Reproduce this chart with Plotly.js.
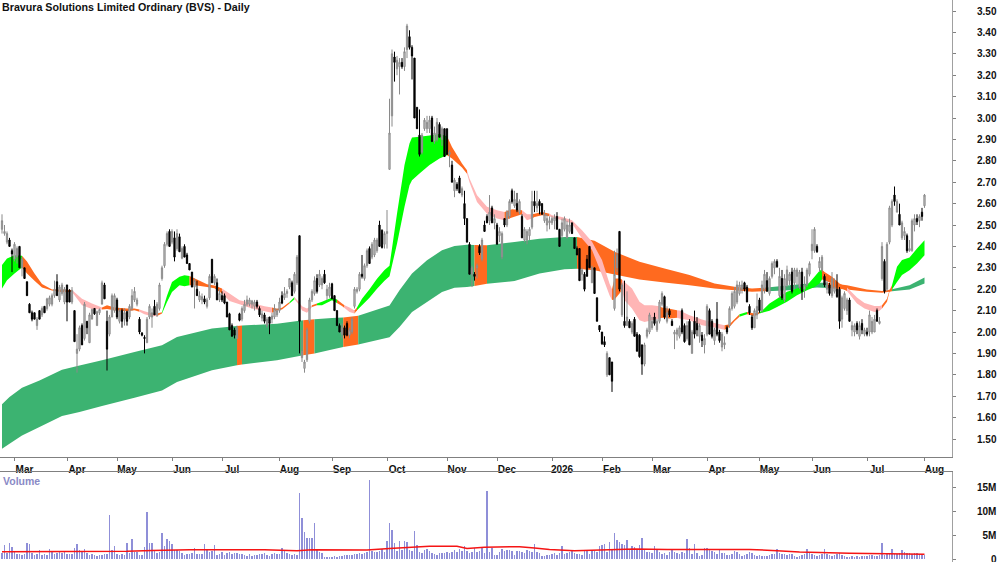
<!DOCTYPE html>
<html>
<head>
<meta charset="utf-8">
<script src="https://cdn.plot.ly/plotly-3.0.1.min.js"></script>
<style>html,body{margin:0;padding:0;background:#fff;overflow:hidden}</style>
</head>
<body>
<div id="chart" style="width:1000px;height:562px"></div>
<script>
var chartTitle = 'Bravura Solutions Limited Ordinary (BVS) - Daily';
var monthTicks = [5,26,46,68,88,111,132,154,178,198,220,240,260,282,303,324,346,369];
var monthLabels = ['Mar','Apr','May','Jun','Jul','Aug','Sep','Oct','Nov','Dec','2026','Feb','Mar','Apr','May','Jun','Jul','Aug'];
var volTicks = [0,5,10,15];
var volLabels = ['\u00A0\u00A0\u00A0\u00A0\u00A00','\u00A0\u00A05M','10M','15M'];

var opens = [
2.48,2.46,2.42,2.43,2.38,2.34,2.35,2.40,2.30,2.30,
2.235,2.13,2.09,2.09,2.03,2.10,2.08,2.12,2.11,2.13,
2.13,2.17,2.235,2.15,2.18,2.14,2.22,2.195,2.14,2.10,
1.90,1.92,2.03,1.97,2.05,1.95,2.06,2.11,2.03,2.09,
2.13,2.22,2.05,1.99,2.07,2.10,2.15,2.05,2.10,2.06,
2.095,2.07,2.11,2.15,2.13,2.06,1.995,1.975,1.95,2.07,
2.07,2.12,2.08,2.11,2.25,2.31,2.41,2.47,2.42,2.44,
2.39,2.445,2.345,2.40,2.36,2.32,2.28,2.21,2.20,2.15,
2.15,2.155,2.12,2.16,2.34,2.23,2.23,2.15,2.17,2.17,
2.14,2.085,2.03,2.01,1.97,2.085,2.06,2.10,2.13,2.13,
2.13,2.12,2.14,2.11,2.065,2.08,2.03,2.07,2.06,2.07,
2.08,2.10,2.17,2.16,2.18,2.21,2.23,2.19,2.23,2.45,
1.88,1.83,1.87,2.05,2.15,2.18,2.25,2.22,2.22,2.27,
2.17,2.17,2.225,2.17,2.10,2.03,1.99,2.02,2.04,1.985,
2.00,2.12,2.19,2.20,2.27,2.25,2.31,2.39,2.35,2.36,
2.38,2.50,2.475,2.41,2.46,2.76,3.01,3.285,3.23,3.24,
3.26,3.24,3.32,3.38,3.33,3.28,3.05,2.92,2.84,2.95,
2.95,2.95,3.00,2.89,2.90,2.97,2.90,2.95,2.95,2.83,
2.78,2.66,2.69,2.72,2.64,2.60,2.53,2.41,2.27,2.27,
2.30,2.40,2.34,2.50,2.54,2.52,2.58,2.51,2.50,2.45,
2.35,2.53,2.50,2.54,2.66,2.59,2.60,2.56,2.54,2.43,
2.43,2.45,2.49,2.61,2.58,2.61,2.60,2.52,2.50,2.51,
2.51,2.52,2.54,2.48,2.45,2.48,2.44,2.47,2.51,2.44,
2.39,2.39,2.27,2.27,2.34,2.40,2.23,2.30,2.16,2.03,
2.00,1.955,1.80,1.88,1.86,2.11,2.30,2.47,2.08,2.05,
2.03,2.05,2.00,2.06,1.99,1.985,1.94,1.85,1.98,2.00,
2.02,2.07,2.01,2.05,2.13,2.165,2.05,2.10,2.05,1.99,
1.99,1.98,2.10,2.03,1.97,2.05,1.90,2.05,2.04,1.98,
1.985,1.94,1.99,2.10,2.05,1.96,2.06,2.00,1.93,1.94,
2.02,2.03,2.11,2.12,2.14,2.18,2.20,2.23,2.21,2.12,
2.07,2.02,2.08,2.15,2.10,2.20,2.24,2.18,2.26,2.30,
2.33,2.17,2.25,2.15,2.22,2.24,2.28,2.23,2.26,2.21,
2.28,2.20,2.22,2.27,2.38,2.38,2.40,2.30,2.29,2.26,
2.20,2.22,2.17,2.19,2.20,2.20,2.06,2.11,2.10,2.15,
2.01,2.00,2.04,1.98,2.04,1.99,2.00,2.00,2.00,2.00,
2.10,2.04,2.25,2.33,2.20,2.42,2.50,2.64,2.56,2.55,
2.44,2.45,2.45,2.38,2.38,2.50,2.53,2.52,2.56,2.59];

var highs = [
2.55,2.50,2.47,2.44,2.39,2.42,2.40,2.40,2.35,2.30,
2.235,2.135,2.10,2.09,2.07,2.10,2.12,2.12,2.16,2.17,
2.18,2.24,2.27,2.22,2.23,2.21,2.22,2.20,2.21,2.10,
1.99,2.03,2.04,2.14,2.05,2.09,2.11,2.11,2.10,2.11,
2.24,2.23,2.10,2.08,2.18,2.18,2.16,2.11,2.11,2.11,
2.10,2.13,2.20,2.21,2.16,2.07,2.00,1.985,2.07,2.13,
2.11,2.15,2.14,2.23,2.31,2.42,2.47,2.48,2.48,2.47,
2.48,2.46,2.40,2.41,2.37,2.32,2.28,2.25,2.24,2.19,
2.18,2.17,2.16,2.27,2.34,2.27,2.25,2.20,2.19,2.18,
2.14,2.09,2.04,2.02,2.03,2.09,2.12,2.15,2.17,2.16,
2.15,2.15,2.15,2.12,2.10,2.09,2.07,2.07,2.09,2.13,
2.11,2.16,2.19,2.21,2.20,2.25,2.24,2.28,2.36,2.45,
2.01,1.87,2.02,2.16,2.20,2.26,2.27,2.29,2.26,2.29,
2.22,2.23,2.23,2.17,2.10,2.04,2.04,2.03,2.05,2.02,
2.07,2.21,2.21,2.28,2.36,2.32,2.39,2.40,2.42,2.44,
2.44,2.52,2.48,2.47,2.57,3.09,3.32,3.31,3.29,3.28,
3.28,3.33,3.44,3.41,3.34,3.28,3.05,3.04,2.93,3.00,
3.01,3.01,3.01,2.96,3.00,2.98,2.96,2.95,2.95,2.85,
2.80,2.72,2.70,2.73,2.68,2.66,2.53,2.42,2.31,2.28,
2.32,2.41,2.44,2.52,2.55,2.64,2.59,2.55,2.51,2.49,
2.47,2.53,2.57,2.62,2.67,2.66,2.65,2.62,2.55,2.49,
2.48,2.49,2.66,2.66,2.66,2.62,2.60,2.57,2.55,2.54,
2.54,2.55,2.56,2.48,2.53,2.54,2.52,2.53,2.51,2.44,
2.40,2.39,2.30,2.28,2.36,2.40,2.31,2.30,2.16,2.03,
2.00,1.98,1.91,1.88,1.86,2.38,2.39,2.47,2.23,2.24,
2.19,2.06,2.05,2.07,2.00,1.99,1.94,1.95,2.02,2.09,
2.07,2.09,2.06,2.15,2.19,2.17,2.12,2.11,2.06,2.01,
2.02,2.03,2.11,2.04,2.05,2.06,2.01,2.10,2.07,2.04,
2.00,1.99,2.13,2.11,2.06,2.02,2.14,2.01,2.00,1.98,
2.03,2.12,2.19,2.21,2.24,2.235,2.24,2.235,2.22,2.13,
2.08,2.11,2.18,2.16,2.24,2.29,2.28,2.26,2.33,2.34,
2.34,2.30,2.29,2.27,2.31,2.28,2.30,2.30,2.30,2.29,
2.30,2.26,2.30,2.33,2.48,2.49,2.41,2.35,2.36,2.27,
2.24,2.23,2.28,2.25,2.27,2.21,2.17,2.19,2.16,2.16,
2.05,2.04,2.05,2.05,2.06,2.02,2.02,2.10,2.07,2.08,
2.11,2.07,2.42,2.34,2.42,2.59,2.62,2.68,2.62,2.60,
2.52,2.49,2.46,2.43,2.53,2.55,2.55,2.55,2.58,2.645];

var lows = [
2.46,2.45,2.41,2.40,2.28,2.33,2.32,2.30,2.26,2.25,
2.17,2.09,2.05,2.06,2.01,2.06,2.07,2.09,2.10,2.12,
2.12,2.16,2.17,2.14,2.17,2.13,2.05,2.14,2.13,1.955,
1.81,1.91,1.94,1.96,1.99,1.95,2.06,2.08,2.03,2.08,
2.13,2.155,1.82,1.98,2.07,2.09,2.06,2.04,2.02,2.03,
2.03,2.06,2.10,2.14,2.12,1.99,1.98,1.90,1.95,2.06,
2.02,2.08,2.07,2.10,2.24,2.30,2.40,2.40,2.41,2.33,
2.38,2.375,2.34,2.35,2.32,2.29,2.21,2.11,2.17,2.14,
2.13,2.13,2.11,2.15,2.23,2.22,2.15,2.14,2.14,2.13,
2.07,2.01,1.98,1.97,1.97,2.05,2.05,2.09,2.12,2.12,
2.11,2.10,2.11,2.07,2.05,2.04,2.02,1.99,2.04,2.06,
2.07,2.09,2.13,2.15,2.16,2.20,2.17,2.18,2.22,1.90,
1.86,1.81,1.86,2.04,2.14,2.17,2.18,2.21,2.20,2.225,
2.15,2.16,2.155,2.10,2.03,2.00,1.97,1.97,1.98,1.97,
1.99,2.11,2.18,2.19,2.25,2.24,2.30,2.32,2.34,2.35,
2.37,2.40,2.39,2.39,2.39,2.76,2.96,3.17,3.20,3.11,
3.23,3.22,3.28,3.32,3.18,3.00,2.95,2.82,2.83,2.94,
2.93,2.93,2.89,2.88,2.89,2.91,2.87,2.82,2.83,2.77,
2.70,2.63,2.66,2.65,2.63,2.50,2.42,2.27,2.21,2.24,
2.25,2.36,2.33,2.47,2.51,2.50,2.51,2.48,2.41,2.42,
2.34,2.49,2.49,2.53,2.60,2.58,2.56,2.55,2.44,2.42,
2.41,2.43,2.48,2.56,2.56,2.55,2.55,2.51,2.47,2.48,
2.50,2.48,2.48,2.40,2.44,2.47,2.44,2.46,2.46,2.39,
2.36,2.24,2.24,2.19,2.26,2.30,2.23,2.18,2.05,2.00,
1.94,1.93,1.79,1.80,1.72,2.10,2.28,2.19,2.07,2.02,
2.03,2.02,1.99,1.98,1.91,1.88,1.80,1.84,1.97,1.99,
2.01,2.03,2.00,2.04,2.12,2.06,2.04,2.07,2.03,1.92,
1.96,1.97,1.99,1.95,1.96,1.94,1.90,1.97,1.98,1.95,
1.93,1.90,1.98,1.99,1.97,1.94,1.98,1.95,1.91,1.92,
1.99,2.02,2.10,2.11,2.13,2.17,2.18,2.19,2.14,2.08,
2.01,2.02,2.06,2.09,2.09,2.18,2.19,2.17,2.25,2.27,
2.30,2.16,2.15,2.14,2.21,2.22,2.18,2.20,2.22,2.20,
2.15,2.16,2.21,2.26,2.34,2.37,2.37,2.28,2.28,2.21,
2.18,2.17,2.16,2.18,2.16,2.015,2.02,2.10,2.08,2.05,
1.98,1.98,1.99,1.965,1.99,1.98,1.98,1.98,1.99,2.00,
2.05,2.035,2.24,2.18,2.19,2.41,2.49,2.59,2.56,2.50,
2.43,2.43,2.37,2.375,2.375,2.47,2.50,2.49,2.52,2.58];

var closes = [
2.52,2.47,2.46,2.40,2.365,2.41,2.39,2.30,2.34,2.25,
2.17,2.09,2.06,2.06,2.06,2.06,2.11,2.09,2.155,2.16,
2.17,2.20,2.17,2.21,2.22,2.20,2.14,2.14,2.195,1.955,
1.92,2.02,1.94,2.13,2.02,2.08,2.105,2.085,2.095,2.105,
2.23,2.155,1.92,2.07,2.17,2.17,2.07,2.10,2.05,2.09,
2.05,2.12,2.17,2.19,2.15,2.00,1.985,1.97,2.06,2.12,
2.09,2.08,2.13,2.22,2.30,2.41,2.46,2.40,2.47,2.35,
2.46,2.375,2.39,2.35,2.32,2.29,2.21,2.24,2.17,2.17,
2.165,2.14,2.15,2.26,2.23,2.26,2.15,2.18,2.15,2.135,
2.07,2.01,1.98,1.985,2.02,2.055,2.11,2.13,2.15,2.15,
2.145,2.14,2.12,2.08,2.085,2.05,2.06,2.04,2.075,2.11,
2.10,2.14,2.135,2.18,2.19,2.25,2.17,2.27,2.35,2.05,
1.91,1.86,2.01,2.15,2.19,2.24,2.19,2.27,2.25,2.23,
2.20,2.21,2.155,2.10,2.03,2.00,2.02,1.985,1.985,2.01,
2.06,2.20,2.20,2.27,2.26,2.31,2.38,2.32,2.41,2.43,
2.43,2.40,2.395,2.46,2.47,2.93,3.30,3.26,3.27,3.26,
3.24,3.31,3.43,3.33,3.29,3.00,2.95,2.83,2.92,2.99,
2.98,2.99,2.89,2.93,2.98,2.91,2.95,2.82,2.83,2.84,
2.70,2.71,2.67,2.65,2.67,2.53,2.42,2.27,2.30,2.26,
2.31,2.37,2.43,2.47,2.51,2.56,2.51,2.53,2.41,2.47,
2.46,2.50,2.56,2.61,2.61,2.62,2.57,2.61,2.44,2.48,
2.47,2.48,2.61,2.59,2.60,2.59,2.55,2.55,2.53,2.52,
2.53,2.535,2.48,2.40,2.51,2.53,2.50,2.50,2.46,2.39,
2.36,2.24,2.29,2.20,2.26,2.30,2.30,2.18,2.05,2.01,
1.945,1.94,1.90,1.80,1.77,2.27,2.36,2.20,2.22,2.03,
2.07,2.02,2.04,1.98,1.91,1.885,1.85,1.94,2.01,2.08,
2.05,2.04,2.05,2.14,2.18,2.07,2.09,2.08,2.03,2.00,
2.01,2.02,2.00,1.955,2.03,1.94,2.00,1.99,2.01,2.03,
1.96,1.97,2.12,1.99,1.98,2.01,1.99,1.96,1.99,1.95,
2.00,2.11,2.18,2.19,2.22,2.22,2.22,2.20,2.14,2.09,
2.02,2.10,2.12,2.10,2.22,2.27,2.19,2.25,2.32,2.33,
2.305,2.26,2.16,2.25,2.29,2.27,2.19,2.29,2.29,2.28,
2.19,2.22,2.29,2.32,2.41,2.48,2.375,2.33,2.35,2.22,
2.23,2.18,2.25,2.21,2.165,2.05,2.16,2.18,2.15,2.05,
2.03,2.03,2.01,2.03,2.01,2.01,1.99,2.08,2.05,2.06,
2.05,2.05,2.40,2.19,2.41,2.58,2.61,2.61,2.61,2.50,
2.51,2.47,2.38,2.39,2.52,2.53,2.515,2.54,2.54,2.64];

// volume in millions
var volumes = [
1.2,2.9,1.3,3.3,2.6,1.4,1.1,1.0,0.9,1.1,
3.4,3.1,1.2,0.9,1.0,1.9,0.9,1.0,0.9,2.1,
1.4,1.1,1.3,1.5,1.2,1.4,1.0,1.0,1.1,2.4,
3.1,1.9,1.5,2.0,1.2,0.8,1.0,0.9,0.7,0.9,
0.8,1.0,1.0,9.2,1.8,2.7,1.0,0.9,1.1,0.8,
3.4,1.2,4.3,1.5,1.4,0.8,0.9,2.6,9.8,3.4,
3.4,1.6,1.3,1.5,5.4,2.7,4.1,3.8,3.1,1.8,
1.9,1.7,1.2,0.9,1.1,1.0,1.3,2.4,1.1,1.0,
1.1,3.1,1.8,1.5,1.7,2.9,0.8,1.0,1.5,0.9,
1.2,1.4,1.1,1.2,1.3,1.0,1.1,0.9,0.7,1.0,
0.7,0.9,0.8,1.0,1.1,1.2,0.9,0.7,1.0,1.3,
1.1,1.0,2.4,1.9,1.2,1.0,0.9,1.0,0.8,13.9,
8.7,5.7,4.5,4.5,4.5,7.6,2.2,1.4,1.3,0.5,
0.5,0.4,0.5,0.6,0.5,0.7,0.6,0.8,0.9,0.8,
0.9,1.1,1.0,1.2,1.0,1.3,1.5,16.7,1.7,1.5,
1.4,1.6,2.2,1.5,3.8,7.5,6.1,3.4,1.7,3.8,
1.8,3.8,3.5,1.9,1.6,5.9,2.9,1.5,1.2,1.8,
2.0,1.6,1.2,1.0,0.9,1.2,1.3,1.2,1.4,1.3,
1.4,1.8,1.5,2.0,1.6,2.7,1.6,1.3,1.4,2.4,
1.4,1.6,2.6,1.2,14.3,1.4,2.4,0.8,0.9,1.4,
2.0,1.7,1.9,1.8,1.7,0.8,1.6,1.7,1.5,1.2,
1.9,1.6,1.5,3.1,1.4,1.2,0.7,0.6,0.9,0.8,
1.0,1.3,0.9,1.2,2.7,1.1,1.3,1.4,1.7,1.2,
1.0,1.0,0.9,1.6,1.7,1.0,1.7,1.6,1.5,2.7,
2.9,3.1,1.4,3.6,1.8,5.4,4.0,3.6,3.2,3.0,
3.9,2.0,2.7,2.6,2.0,2.9,4.4,1.8,1.5,1.5,
1.3,2.7,2.2,1.4,1.1,1.2,0.8,1.4,2.2,1.4,
1.2,1.0,1.5,1.3,4.3,2.4,1.0,3.1,1.3,0.7,
0.9,2.4,2.3,2.2,1.6,1.4,1.1,1.9,1.3,1.2,
0.8,0.9,1.0,1.6,1.5,1.1,0.6,0.8,1.0,1.4,
1.2,0.9,0.7,0.8,0.6,0.7,0.6,0.9,1.0,1.1,
2.1,1.2,1.0,1.1,0.8,1.0,1.0,0.7,0.5,0.7,
0.9,1.1,2.0,1.3,1.0,0.9,0.7,0.8,1.0,2.0,
1.0,0.9,0.7,0.8,1.1,1.3,0.9,0.6,0.4,0.5,
0.6,0.5,0.6,0.5,0.7,0.6,0.7,0.8,0.8,0.7,
0.6,0.8,3.4,0.9,1.0,1.3,2.0,1.1,1.0,1.2,
1.9,1.5,1.3,1.2,1.1,1.3,1.2,1.0,1.1,0.9];

// red volume average, read at its bends
var volAvgX = [0,30,50,60,75,105,118,124,140,146,155,165,171,182,186,193,200,207,213,219,229,240,253,266,299,310,319,339,369];
var volAvg = [1.5,1.5,1.65,1.8,1.95,1.95,1.75,1.95,1.85,1.9,2.2,2.45,2.7,2.7,2.2,2.45,2.45,2.6,2.3,2.0,1.75,1.9,2.1,2.0,2.0,1.75,1.45,1.2,1.0];

// fast ribbon, colour letter applies from that knot to the next
var fastX = [0,2,5,8,10,13,16,20,24,28,32,36,40,42,45,50,53,55,57,60,62,64,66,68,71,73,75,78,82,85,88,91,95,100,105,108,110,112,115,117,119,120,122,124,126,128,132,134,136,137,139,141,142,144,147,150,153,155,158,161,163,164,167,171,175,178,180,184,186,187,190,194,198,201,204,208,210,212,213,216,219,220,224,228,232,236,240,243,244,245,247,248,249,252,255,257,260,263,264,267,270,271,275,280,285,289,291,293,295,298,301,303,304,307,310,314,318,322,325,327,328,329,332,335,338,342,345,349,351,352,354,355,356,358,360,363,366,369];
var fastTop = [2.313,2.344,2.359,2.356,2.33,2.274,2.224,2.199,2.199,2.196,2.155,2.133,2.114,2.125,2.115,2.11,2.11,2.105,2.097,2.086,2.087,2.092,2.17,2.234,2.258,2.265,2.262,2.245,2.223,2.217,2.203,2.18,2.148,2.136,2.12,2.114,2.109,2.113,2.14,2.164,2.135,2.12,2.11,2.125,2.133,2.141,2.161,2.152,2.133,2.125,2.114,2.10,2.114,2.155,2.20,2.249,2.29,2.31,2.553,2.78,2.881,2.909,2.912,2.918,2.925,2.915,2.865,2.787,2.756,2.717,2.639,2.585,2.569,2.561,2.574,2.569,2.55,2.55,2.553,2.561,2.553,2.546,2.538,2.522,2.476,2.422,2.336,2.227,2.20,2.25,2.25,2.245,2.234,2.203,2.141,2.125,2.125,2.12,2.114,2.109,2.102,2.10,2.078,2.058,2.042,2.032,2.036,2.06,2.083,2.094,2.086,2.094,2.099,2.133,2.156,2.188,2.203,2.219,2.258,2.286,2.292,2.281,2.258,2.227,2.208,2.161,2.136,2.121,2.121,2.125,2.156,2.195,2.219,2.305,2.336,2.348,2.39,2.429];
var fastBot = [2.203,2.242,2.274,2.302,2.274,2.239,2.208,2.194,2.186,2.187,2.125,2.107,2.105,2.107,2.102,2.097,2.102,2.095,2.083,2.074,2.075,2.086,2.14,2.187,2.219,2.214,2.219,2.217,2.21,2.204,2.18,2.145,2.13,2.11,2.097,2.09,2.10,2.105,2.133,2.153,2.125,2.10,2.09,2.117,2.125,2.125,2.149,2.136,2.122,2.112,2.094,2.086,2.102,2.125,2.16,2.202,2.24,2.26,2.413,2.585,2.686,2.709,2.741,2.78,2.811,2.826,2.811,2.769,2.74,2.70,2.608,2.553,2.53,2.522,2.535,2.55,2.522,2.53,2.537,2.546,2.541,2.535,2.522,2.507,2.437,2.383,2.266,2.172,2.15,2.152,2.18,2.195,2.149,2.11,2.055,2.047,2.055,2.063,2.067,2.063,2.067,2.063,2.055,2.032,2.021,2.011,2.024,2.05,2.071,2.083,2.075,2.086,2.09,2.099,2.117,2.141,2.172,2.195,2.21,2.227,2.245,2.242,2.227,2.208,2.192,2.133,2.11,2.094,2.099,2.11,2.141,2.188,2.199,2.234,2.266,2.289,2.32,2.359];
var fastCol = ['LLL','OOOOOO','PPP','OOOOO','PPP','O','LLLLL','OOOO','PPPPP','OOO','L','PPPP','O','LLL','OO','PP','O','LLLLLLLLLLLLL','OOO','PPPPP','OO','PP','OOO','PPPPPPPP','OOO','PPPPPP','OOO','PPPPP','OOO','L','OO','LLLLLLLLL','OOOO','PPPPP','OOO','LLLLLL'].join('');

// slow ribbon
var slowX = [0,3,8,15,24,31,40,53,64,70,84,94,96,110,120.5,125,132,136.5,142.5,155,159,164,170,176,181,186,189,194,205,215,225,230,237,245,255,265,275,285,293,300,306,315,326,330,338,346,352,355,356,363,369];
var slowTop = [1.662,1.696,1.74,1.774,1.824,1.844,1.868,1.907,1.938,1.977,2.016,2.028,2.03,2.039,2.055,2.06,2.065,2.068,2.076,2.124,2.195,2.273,2.335,2.382,2.402,2.408,2.407,2.405,2.421,2.436,2.444,2.444,2.426,2.375,2.328,2.297,2.266,2.227,2.211,2.203,2.208,2.219,2.23,2.23,2.219,2.199,2.192,2.198,2.20,2.219,2.255];
var slowBot = [1.454,1.478,1.517,1.556,1.607,1.626,1.654,1.693,1.727,1.766,1.821,1.845,1.848,1.868,1.892,1.90,1.918,1.93,1.942,1.976,2.023,2.093,2.14,2.187,2.207,2.21,2.215,2.225,2.238,2.273,2.293,2.296,2.289,2.269,2.245,2.231,2.219,2.203,2.195,2.188,2.191,2.195,2.208,2.206,2.199,2.188,2.183,2.188,2.19,2.199,2.227];
var slowCol = ['GGGGGGGGGGG','O','GG','O','GG','O','GGGGGGGG','O','GGGG','OOOOOOOOO','GGG','OOOOO','GGG'].join('');

var ribbonColors = {L:'#00FF00', O:'#FF6A1F', P:'#FFB5B5', G:'#3CB371'};

// one filled polygon per run of the same colour
function ribbonTraces(xs, tops, bots, cols){
    var out = [];
    var start = 0;
    for (var k = 1; k < xs.length; k++){
        if (k == xs.length - 1 || cols[k] != cols[start]){
            var px = xs.slice(start, k + 1);
            var py = tops.slice(start, k + 1);
            out.push({
                x: px.concat(px.slice().reverse()),
                y: py.concat(bots.slice(start, k + 1).reverse()),
                type: 'scatter', mode: 'none', fill: 'toself',
                fillcolor: ribbonColors[cols[start]],
                xaxis: 'x', yaxis: 'y', hoverinfo: 'skip', showlegend: false
            });
            start = k;
        }
    }
    return out;
}

var barIndex = closes.map(function(c, i){ return i; });

var candles = {
    x: barIndex, open: opens, high: highs, low: lows, close: closes,
    type: 'candlestick', xaxis: 'x', yaxis: 'y2',
    increasing: {line: {color: '#8a8a8a', width: 1}, fillcolor: '#cfcfcf'},
    decreasing: {line: {color: '#000000', width: 1}, fillcolor: '#000000'},
    whiskerwidth: 0, showlegend: false, hoverinfo: 'skip'
};

var volBars = {
    x: barIndex, y: volumes, type: 'bar', width: 0.5,
    marker: {color: '#8F8FD8', line: {width: 0}},
    xaxis: 'x2', yaxis: 'y3', showlegend: false, hoverinfo: 'skip'
};

var volLine = {
    x: volAvgX, y: volAvg, type: 'scatter', mode: 'lines',
    line: {color: '#F51515', width: 1.5},
    xaxis: 'x2', yaxis: 'y3', showlegend: false, hoverinfo: 'skip'
};

var labelFont = {family: '"Liberation Sans", Arial, sans-serif', size: 10, color: '#111111', weight: 700};
var xRange = [-0.8, 380];
var priceRange = [1.4159, 3.5514];

var layout = {
    width: 1000, height: 562,
    margin: {l: 0, r: 0, t: 0, b: 0},
    paper_bgcolor: '#ffffff', plot_bgcolor: '#ffffff',
    showlegend: false, bargap: 0,
    title: {
        text: chartTitle,
        font: {family: '"Liberation Sans", Arial, sans-serif', size: 10.7, color: '#111111', weight: 700},
        x: 0.002, xanchor: 'left', y: 0.987, yanchor: 'middle', xref: 'paper', yref: 'container'
    },
    xaxis: {
        domain: [0, 0.952], range: xRange, anchor: 'y', side: 'bottom',
        tickmode: 'array', tickvals: monthTicks, ticktext: monthLabels,
        ticks: 'outside', ticklen: 3, tickcolor: '#808080', tickwidth: 1,
        showline: true, linecolor: '#808080', linewidth: 1,
        showgrid: false, zeroline: false, rangeslider: {visible: false},
        tickfont: labelFont, tickangle: 0, ticklabelshift: 10, ticklabelstandoff: 0
    },
    xaxis2: {
        domain: [0, 0.952], range: xRange, anchor: 'y3', side: 'top',
        showticklabels: false, ticks: '', showline: true, linecolor: '#808080', linewidth: 1,
        showgrid: false, zeroline: false
    },
    yaxis: {
        domain: [0.1868, 1], range: priceRange, anchor: 'x', side: 'right',
        tick0: 1.5, dtick: 0.1, tickformat: '.2f',
        ticks: 'outside', ticklen: 3, tickcolor: '#808080', tickwidth: 1,
        showline: true, linecolor: '#a0a0a0', linewidth: 1,
        showgrid: false, zeroline: false,
        tickfont: labelFont, ticklabelstandoff: 19
    },
    yaxis2: {
        domain: [0.1868, 1], range: priceRange, anchor: 'x', overlaying: 'y', side: 'right',
        visible: false, showgrid: false, zeroline: false
    },
    yaxis3: {
        domain: [0, 0.1601], range: [-0.63, 18.28], anchor: 'x2', side: 'right',
        tickmode: 'array', tickvals: volTicks, ticktext: volLabels,
        ticks: 'outside', ticklen: 3, tickcolor: '#808080', tickwidth: 1,
        showline: true, linecolor: '#a0a0a0', linewidth: 1,
        showgrid: false, zeroline: false,
        tickfont: labelFont, ticklabelstandoff: 19, ticklabeloverflow: 'allow'
    },
    annotations: [{
        text: 'Volume', xref: 'paper', yref: 'paper', x: 0.001, y: 0.1445,
        xanchor: 'left', yanchor: 'middle', showarrow: false,
        font: {family: '"Liberation Sans", Arial, sans-serif', size: 10.5, color: '#8A8AC6', weight: 700}
    }]
};

var data = ribbonTraces(slowX, slowTop, slowBot, slowCol)
    .concat(ribbonTraces(fastX, fastTop, fastBot, fastCol))
    .concat([candles, volBars, volLine]);

Plotly.newPlot('chart', data, layout, {displayModeBar: false, staticPlot: true});
</script>
</body>
</html>
